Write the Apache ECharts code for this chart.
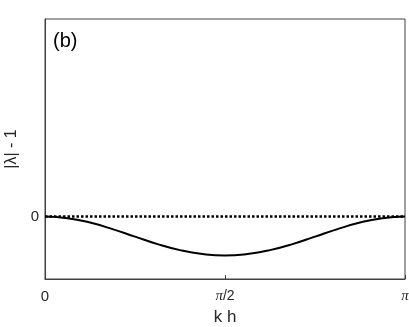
<!DOCTYPE html>
<html>
<head>
<meta charset="utf-8">
<script src="https://cdn.jsdelivr.net/npm/echarts@6/dist/echarts.min.js"></script>
<style>
html, body { margin: 0; padding: 0; background: #fff; }
#chart { width: 409px; height: 327px; }
</style>
</head>
<body>
<div id="chart"></div>
<script>
// k h / pi sample positions
const khOverPi = [0, 0.0625, 0.125, 0.1875, 0.25, 0.3125, 0.375, 0.4375, 0.5,
	0.5625, 0.625, 0.6875, 0.75, 0.8125, 0.875, 0.9375, 1]
// |lambda| - 1
const lambdaMinusOne = [0, -0.006, -0.023, -0.048, -0.077, -0.106, -0.129, -0.144, -0.150,
	-0.144, -0.129, -0.106, -0.077, -0.048, -0.023, -0.006, 0]
const zeroLine = [0, 0]
const zeroLineX = [0, 1]
const xTicks = [0, 0.5, 1]
const xTickLabels = ['{n|0}', '{pi|π}/2', '{pi|π}']
const yTicks = [0]

const PI = Math.PI
const font = 'Liberation Sans, Arial, Helvetica, sans-serif'
const textColor = '#262626'
const axisColor = '#404040'

const myChart = echarts.init(document.getElementById('chart'))

const option = {
	animation: false,
	grid: {
		left: 45,
		right: 4,
		top: 19,
		bottom: 48,
		outerBoundsMode: 'none',
		containLabel: false,
		show: true,
		borderColor: axisColor,
		borderWidth: 1
	},
	graphic: [
		{
			type: 'text',
			left: 53,
			top: 31,
			style: { text: '(b)', fontSize: 20, fontFamily: font, fill: '#000' }
		}
	],
	xAxis: {
		type: 'value',
		min: 0,
		max: PI,
		name: 'k h',
		nameLocation: 'middle',
		nameGap: 30,
		nameTextStyle: { fontSize: 17, fontFamily: font, color: textColor },
		axisLine: { show: true, onZero: false, lineStyle: { color: axisColor } },
		splitLine: { show: false },
		axisTick: {
			show: true,
			inside: true,
			length: 4,
			lineStyle: { color: axisColor },
			customValues: xTicks.map(v => v * PI)
		},
		axisLabel: {
			customValues: xTicks.map(v => v * PI),
			margin: 10,
			fontSize: 14,
			fontFamily: font,
			color: textColor,
			formatter: function(value) {
				const i = xTicks.findIndex(t => Math.abs(t * PI - value) < 1e-6)
				return i >= 0 ? xTickLabels[i] : ''
			},
			rich: {
				n: { fontSize: 15, fontFamily: font, color: textColor },
				pi: { fontSize: 15, fontFamily: 'Liberation Serif, serif', fontStyle: 'italic', color: textColor }
			}
		}
	},
	yAxis: {
		type: 'value',
		min: -0.24,
		max: 0.76,
		name: '|λ| - 1',
		nameLocation: 'middle',
		nameGap: 22,
		nameRotate: 90,
		nameTextStyle: { fontSize: 16, fontFamily: font, color: textColor },
		axisLine: { show: true, onZero: false, lineStyle: { color: axisColor } },
		splitLine: { show: false },
		axisTick: {
			show: true,
			inside: true,
			length: 4,
			lineStyle: { color: axisColor },
			customValues: yTicks
		},
		axisLabel: {
			customValues: yTicks,
			margin: 6,
			fontSize: 15,
			fontFamily: font,
			color: textColor
		}
	},
	series: [
		{
			type: 'line',
			data: zeroLineX.map((v, i) => [v * PI, zeroLine[i]]),
			showSymbol: false,
			lineStyle: { color: '#000', width: 2.5, type: [2.5, 2] },
			z: 3
		},
		{
			type: 'line',
			data: khOverPi.map((v, i) => [v * PI, lambdaMinusOne[i]]),
			smooth: 0.5,
			showSymbol: false,
			lineStyle: { color: '#000', width: 2 },
			z: 2
		}
	]
}
myChart.setOption(option)
</script>
</body>
</html>
